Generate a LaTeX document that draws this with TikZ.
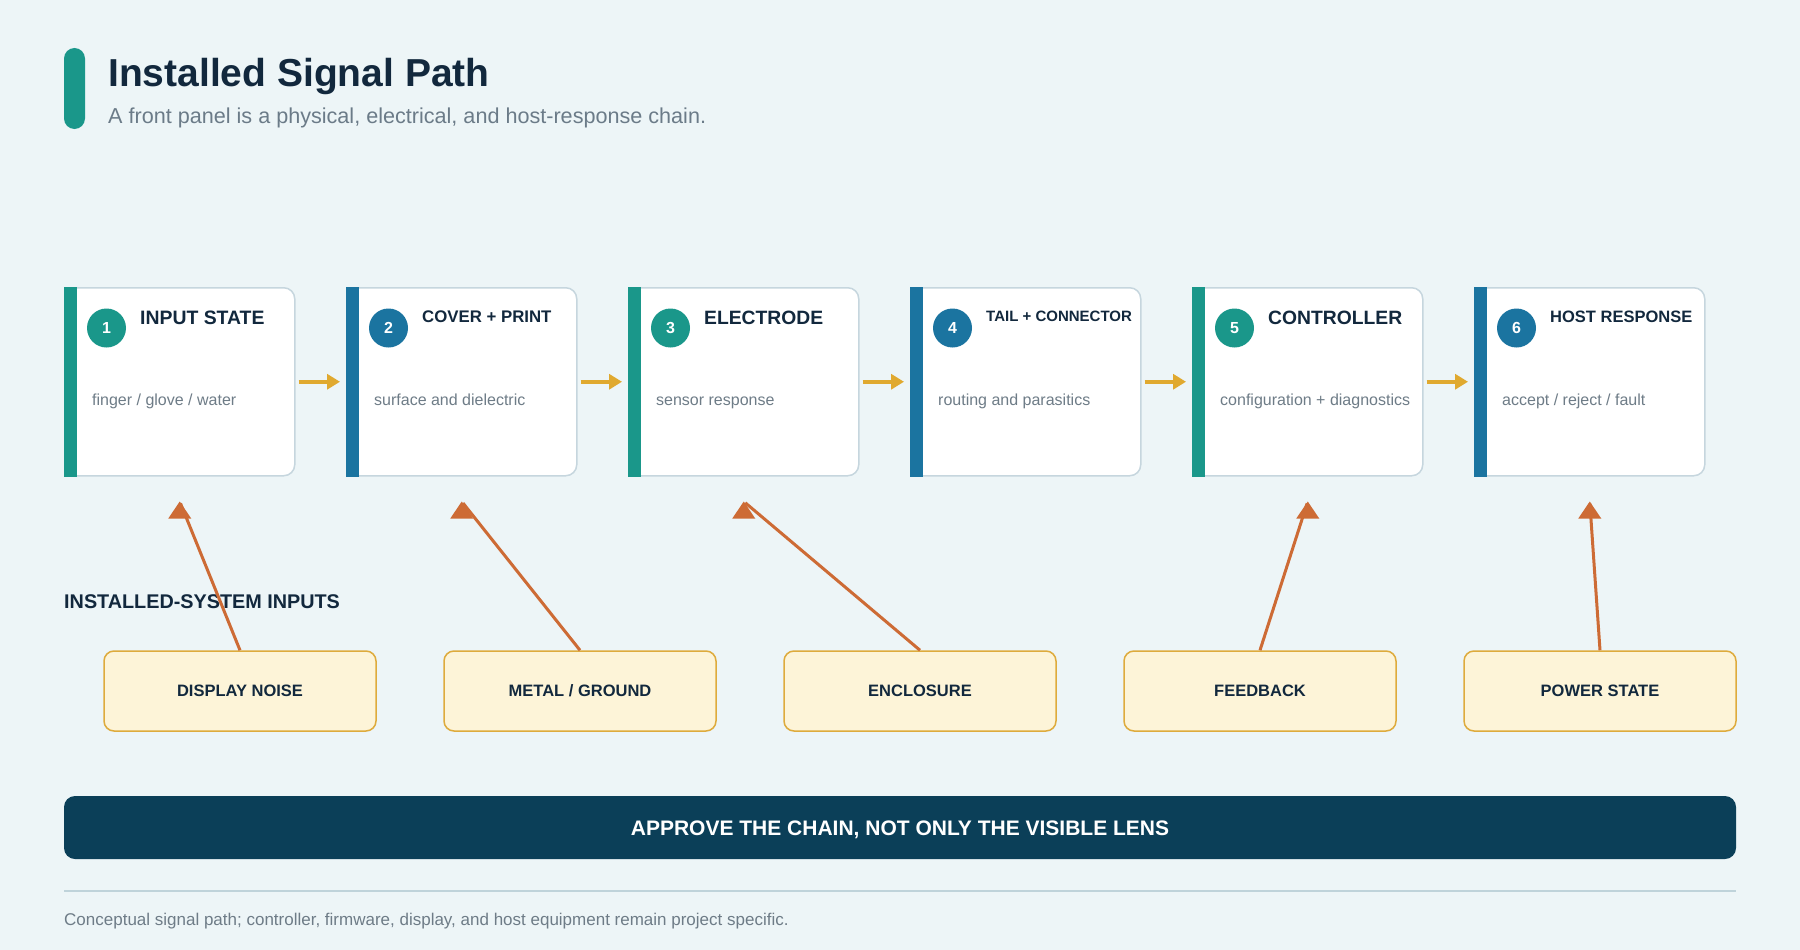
\documentclass[tikz,border=0pt]{standalone}
\usepackage{fontspec}
\setmainfont{Liberation Sans}
\usetikzlibrary{positioning,calc,arrows.meta}

\definecolor{bgpage}{HTML}{EDF5F7}
\definecolor{navy}{HTML}{12283D}
\definecolor{subgray}{HTML}{6B7B88}
\definecolor{descgray}{HTML}{6E7C87}
\definecolor{pathteal}{HTML}{1A978A}
\definecolor{pathblue}{HTML}{1B74A0}
\definecolor{cardline}{HTML}{C6D6DE}
\definecolor{flowgold}{HTML}{E0A92F}
\definecolor{inputgold}{HTML}{DEAB3C}
\definecolor{inputcream}{HTML}{FDF4D8}
\definecolor{inputorange}{HTML}{CD6B35}
\definecolor{bannerblue}{HTML}{0B3F58}
\definecolor{rulegray}{HTML}{BFD3DA}

\tikzset{
  card/.style={draw=cardline, line width=1.5pt, fill=white, rounded corners=11pt,
               minimum width=230pt, minimum height=188pt, inner sep=0pt, anchor=north west},
  badge/.style={circle, minimum size=39pt, inner sep=0pt, text=white,
                font=\fontsize{16}{18}\selectfont\bfseries},
  cardtitle/.style={anchor=west, inner sep=0pt, text=navy},
  carddesc/.style={anchor=base west, inner sep=0pt, text=descgray,
                   font=\fontsize{16}{19}\selectfont},
  flowarrow/.style={draw=flowgold, line width=4pt, -{Triangle[length=13pt,width=15pt]},
                    shorten <=3pt, shorten >=6pt},
  inputbox/.style={draw=inputgold, line width=1.5pt, fill=inputcream, rounded corners=10pt,
                   minimum width=272pt, minimum height=80pt, inner sep=0pt, text=navy,
                   font=\fontsize{16.5}{19}\selectfont\bfseries},
  influence/.style={draw=inputorange, line width=3pt, shorten >=2pt},
}

\newcommand{\uphead}[1]{\fill[inputorange] (#1) -- ++(-11.5,17) -- ++(23,0) -- cycle;}

\begin{document}
\begin{tikzpicture}[x=1pt,y=-1pt]

\pgfmathsetmacro{\cardtop}{287}
\pgfmathsetmacro{\cardstep}{282}
\pgfmathsetmacro{\barw}{13}

\fill[bgpage] (0,0) rectangle (1800,950);
\useasboundingbox (0,0) rectangle (1800,950);

% HEADER

\fill[pathteal, rounded corners=10.5pt] (64,48) rectangle (85,129);
\node(title)[anchor=base west, inner sep=0pt, text=navy,
             font=\fontsize{39}{45}\selectfont\bfseries] at (108,86) {Installed Signal Path};
\node(subtitle)[anchor=base west, inner sep=0pt, text=subgray,
                font=\fontsize{21.6}{25}\selectfont] at (108,123)
                {A front panel is a physical, electrical, and host-response chain.};

% CARDS

\node(card1)[card] at (64,\cardtop) {};
\node(card2)[card] at (64+\cardstep,\cardtop) {};
\node(card3)[card] at (64+2*\cardstep,\cardtop) {};
\node(card4)[card] at (64+3*\cardstep,\cardtop) {};
\node(card5)[card] at (64+4*\cardstep,\cardtop) {};
\node(card6)[card] at (64+5*\cardstep,\cardtop) {};

\fill[pathteal] (card1.north west) rectangle ($(card1.south west)+(\barw,0)$);
\fill[pathblue] (card2.north west) rectangle ($(card2.south west)+(\barw,0)$);
\fill[pathteal] (card3.north west) rectangle ($(card3.south west)+(\barw,0)$);
\fill[pathblue] (card4.north west) rectangle ($(card4.south west)+(\barw,0)$);
\fill[pathteal] (card5.north west) rectangle ($(card5.south west)+(\barw,0)$);
\fill[pathblue] (card6.north west) rectangle ($(card6.south west)+(\barw,0)$);

\node(num1)[badge, fill=pathteal] at ($(card1.north west)+(42.5,41)$) {1};
\node(num2)[badge, fill=pathblue] at ($(card2.north west)+(42.5,41)$) {2};
\node(num3)[badge, fill=pathteal] at ($(card3.north west)+(42.5,41)$) {3};
\node(num4)[badge, fill=pathblue] at ($(card4.north west)+(42.5,41)$) {4};
\node(num5)[badge, fill=pathteal] at ($(card5.north west)+(42.5,41)$) {5};
\node(num6)[badge, fill=pathblue] at ($(card6.north west)+(42.5,41)$) {6};

\node(head1)[cardtitle, font=\fontsize{19.4}{22}\selectfont\bfseries]
            at ($(card1.north west)+(76,31)$) {INPUT STATE};
\node(head2)[cardtitle, font=\fontsize{16.8}{20}\selectfont\bfseries]
            at ($(card2.north west)+(76,30)$) {COVER + PRINT};
\node(head3)[cardtitle, font=\fontsize{19.3}{22}\selectfont\bfseries]
            at ($(card3.north west)+(76,31)$) {ELECTRODE};
\node(head4)[cardtitle, font=\fontsize{15}{18}\selectfont\bfseries]
            at ($(card4.north west)+(76,29)$) {TAIL + CONNECTOR};
\node(head5)[cardtitle, font=\fontsize{19.3}{22}\selectfont\bfseries]
            at ($(card5.north west)+(76,31)$) {CONTROLLER};
\node(head6)[cardtitle, font=\fontsize{16.5}{20}\selectfont\bfseries]
            at ($(card6.north west)+(76,30)$) {HOST RESPONSE};

\node(desc1)[carddesc] at ($(card1.north west)+(28,118)$) {finger / glove / water};
\node(desc2)[carddesc] at ($(card2.north west)+(28,118)$) {surface and dielectric};
\node(desc3)[carddesc] at ($(card3.north west)+(28,118)$) {sensor response};
\node(desc4)[carddesc] at ($(card4.north west)+(28,118)$) {routing and parasitics};
\node(desc5)[carddesc] at ($(card5.north west)+(28,118)$) {configuration + diagnostics};
\node(desc6)[carddesc] at ($(card6.north west)+(28,118)$) {accept / reject / fault};

\draw[flowarrow] (card1.east) -- (card2.west);
\draw[flowarrow] (card2.east) -- (card3.west);
\draw[flowarrow] (card3.east) -- (card4.west);
\draw[flowarrow] (card4.east) -- (card5.west);
\draw[flowarrow] (card5.east) -- (card6.west);

% INSTALLED-SYSTEM INPUTS

\node(inputslabel)[anchor=west, inner sep=0pt, text=navy,
                   font=\fontsize{19.8}{22}\selectfont\bfseries] at (64,602)
                   {INSTALLED-SYSTEM INPUTS};

\node(in1)[inputbox] at (240,691) {DISPLAY NOISE};
\node(in2)[inputbox] at (580,691) {METAL / GROUND};
\node(in3)[inputbox] at (920,691) {ENCLOSURE};
\node(in4)[inputbox] at (1260,691) {FEEDBACK};
\node(in5)[inputbox] at (1600,691) {POWER STATE};

\coordinate (tip1) at ($(card1.south)+(0,25)$);
\coordinate (tip2) at ($(card2.south)+(0,25)$);
\coordinate (tip3) at ($(card3.south)+(0,25)$);
\coordinate (tip5) at ($(card5.south)+(0,25)$);
\coordinate (tip6) at ($(card6.south)+(0,25)$);

\draw[influence] (in1.north) -- (tip1); \uphead{tip1}
\draw[influence] (in2.north) -- (tip2); \uphead{tip2}
\draw[influence] (in3.north) -- (tip3); \uphead{tip3}
\draw[influence] (in4.north) -- (tip5); \uphead{tip5}
\draw[influence] (in5.north) -- (tip6); \uphead{tip6}

% BANNER + FOOTER

\node(banner)[fill=bannerblue, rounded corners=11pt, minimum width=1672pt, minimum height=63pt,
              inner sep=0pt] at (900,827.5) {};
\node(bannertext)[text=white, inner sep=0pt, font=\fontsize{21}{24}\selectfont\bfseries]
                 at ($(banner.center)+(0,2)$) {APPROVE THE CHAIN, NOT ONLY THE VISIBLE LENS};

\draw[rulegray, line width=2pt] (64,891) -- (1736,891);

\node(footnote)[anchor=base west, inner sep=0pt, text=descgray,
                font=\fontsize{17}{20}\selectfont] at (64,925)
                {Conceptual signal path; controller, firmware, display, and host equipment remain project specific.};

\end{tikzpicture}
\end{document}
